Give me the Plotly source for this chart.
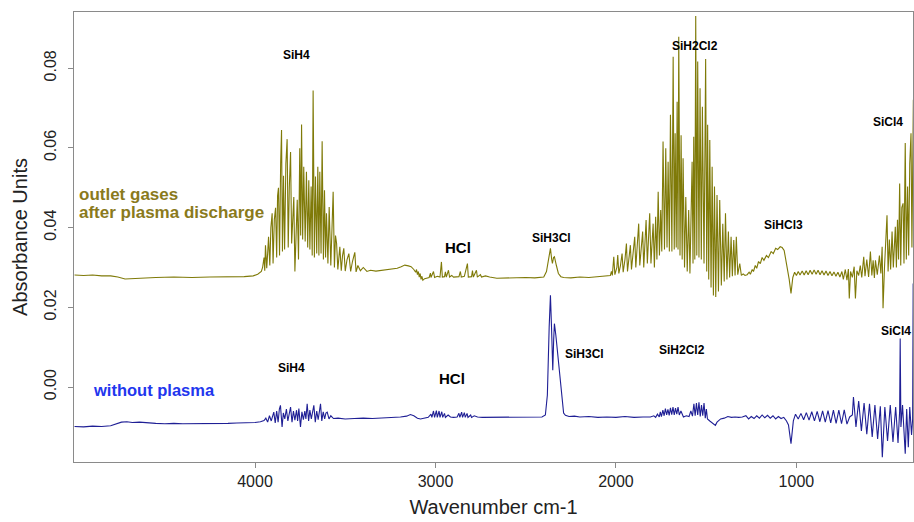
import plotly.graph_objects as go

# ---------------- data ----------------
# outlet gases after plasma discharge: (wavenumber cm-1, absorbance)
olive_points = [
    (5000, 0.0281), (4950, 0.0280), (4900, 0.0281), (4850, 0.0279), (4800, 0.0279),
    (4760, 0.0276), (4720, 0.0271), (4680, 0.0272), (4620, 0.0274), (4550, 0.0275),
    (4450, 0.0276), (4350, 0.0275), (4250, 0.0276), (4150, 0.0276), (4060, 0.0277),
    (4010, 0.0279), (3985, 0.0283), (3965, 0.0290), (3958, 0.0300),
    (3950, 0.0325), (3946, 0.0292), (3942, 0.0356), (3935, 0.0298), (3930, 0.0335),
    (3925, 0.0377), (3918, 0.0305), (3912, 0.0400), (3905, 0.0436), (3900, 0.0310),
    (3893, 0.0420), (3886, 0.0450), (3880, 0.0325), (3875, 0.0480), (3870, 0.0500),
    (3864, 0.0330), (3858, 0.0560), (3853, 0.0645), (3848, 0.0340), (3842, 0.0530),
    (3836, 0.0345), (3829, 0.0560), (3822, 0.0622), (3816, 0.0350), (3810, 0.0500),
    (3803, 0.0590), (3797, 0.0360), (3791, 0.0420), (3785, 0.0477), (3779, 0.0290),
    (3772, 0.0400), (3766, 0.0470), (3759, 0.0320), (3752, 0.0599), (3747, 0.0380),
    (3742, 0.0659), (3736, 0.0370), (3730, 0.0553), (3722, 0.0365), (3715, 0.0540),
    (3708, 0.0350), (3702, 0.0519), (3696, 0.0345), (3689, 0.0503), (3683, 0.0330),
    (3678, 0.0744), (3671, 0.0325), (3665, 0.0528), (3658, 0.0335), (3652, 0.0553),
    (3646, 0.0330), (3641, 0.0540), (3634, 0.0335), (3628, 0.0617), (3621, 0.0320),
    (3615, 0.0494), (3609, 0.0325), (3604, 0.0436), (3596, 0.0310), (3589, 0.0452),
    (3580, 0.0305), (3574, 0.0400), (3567, 0.0490), (3560, 0.0300), (3554, 0.0380),
    (3548, 0.0361), (3541, 0.0295), (3530, 0.0352), (3522, 0.0292), (3515, 0.0330),
    (3508, 0.0348), (3500, 0.0291), (3490, 0.0320), (3480, 0.0335), (3470, 0.0290),
    (3460, 0.0315), (3447, 0.0338), (3440, 0.0289), (3430, 0.0305), (3416, 0.0292),
    (3400, 0.0300), (3380, 0.0290), (3360, 0.0293), (3330, 0.0291), (3300, 0.0293),
    (3270, 0.0295), (3240, 0.0296), (3212, 0.0298), (3190, 0.0302), (3170, 0.0306),
    (3150, 0.0304), (3135, 0.0302), (3120, 0.0295), (3110, 0.0288), (3105, 0.0295),
    (3100, 0.0282), (3095, 0.0290), (3090, 0.0276), (3085, 0.0285), (3080, 0.0270),
    (3075, 0.0278), (3070, 0.0268), (3060, 0.0272), (3045, 0.0274), (3035, 0.0275),
    (3028, 0.0286), (3025, 0.0275), (3011, 0.0290), (3005, 0.0275), (2990, 0.0278),
    (2975, 0.0276), (2967, 0.0314), (2962, 0.0276), (2950, 0.0277), (2945, 0.0289),
    (2940, 0.0276), (2928, 0.0293), (2922, 0.0276), (2910, 0.0280), (2900, 0.0276),
    (2870, 0.0277), (2862, 0.0290), (2857, 0.0276), (2840, 0.0278), (2823, 0.0310),
    (2818, 0.0276), (2800, 0.0277), (2795, 0.0292), (2790, 0.0276), (2773, 0.0293),
    (2768, 0.0276), (2751, 0.0282), (2745, 0.0276), (2723, 0.0279), (2700, 0.0276),
    (2660, 0.0273), (2600, 0.0274), (2550, 0.0273), (2500, 0.0275), (2450, 0.0274),
    (2400, 0.0276), (2385, 0.0290), (2370, 0.0335), (2363, 0.0348), (2356, 0.0320),
    (2352, 0.0310), (2346, 0.0325), (2341, 0.0327), (2330, 0.0305), (2319, 0.0285),
    (2305, 0.0277), (2290, 0.0275), (2250, 0.0274), (2200, 0.0276), (2150, 0.0275),
    (2100, 0.0277), (2060, 0.0278), (2040, 0.0280), (2031, 0.0280), (2025, 0.0290),
    (2020, 0.0280), (2012, 0.0327), (2006, 0.0282), (1995, 0.0300), (1990, 0.0331),
    (1984, 0.0285), (1975, 0.0305), (1966, 0.0335), (1960, 0.0288), (1950, 0.0320),
    (1942, 0.0360), (1936, 0.0290), (1928, 0.0330), (1920, 0.0356), (1914, 0.0295),
    (1905, 0.0340), (1896, 0.0377), (1890, 0.0300), (1882, 0.0350), (1874, 0.0410),
    (1868, 0.0305), (1860, 0.0360), (1852, 0.0390), (1846, 0.0300), (1840, 0.0370),
    (1833, 0.0419), (1826, 0.0310), (1820, 0.0390), (1813, 0.0436), (1806, 0.0310),
    (1800, 0.0380), (1794, 0.0410), (1787, 0.0300), (1780, 0.0427), (1773, 0.0320),
    (1766, 0.0490), (1759, 0.0330), (1752, 0.0444), (1746, 0.0340), (1739, 0.0616),
    (1731, 0.0345), (1724, 0.0599), (1717, 0.0350), (1711, 0.0565), (1704, 0.0340),
    (1698, 0.0683), (1690, 0.0340), (1683, 0.0829), (1677, 0.0345), (1672, 0.0637),
    (1666, 0.0350), (1661, 0.0716), (1656, 0.0345), (1652, 0.0879), (1645, 0.0330),
    (1639, 0.0632), (1633, 0.0320), (1628, 0.0574), (1620, 0.0300), (1613, 0.0477),
    (1605, 0.0290), (1597, 0.0444), (1590, 0.0285), (1578, 0.0565), (1573, 0.0310),
    (1569, 0.0628), (1563, 0.0320), (1558, 0.0931), (1552, 0.0330), (1547, 0.0817),
    (1540, 0.0325), (1534, 0.0750), (1527, 0.0320), (1521, 0.0703), (1512, 0.0310),
    (1503, 0.0823), (1497, 0.0290), (1492, 0.0658), (1486, 0.0270), (1480, 0.0620),
    (1473, 0.0250), (1467, 0.0553), (1460, 0.0230), (1454, 0.0503), (1447, 0.0226),
    (1440, 0.0482), (1432, 0.0240), (1425, 0.0469), (1416, 0.0255), (1408, 0.0410),
    (1400, 0.0265), (1393, 0.0436), (1385, 0.0270), (1377, 0.0390), (1370, 0.0275),
    (1362, 0.0377), (1355, 0.0278), (1347, 0.0369), (1340, 0.0280), (1333, 0.0377),
    (1325, 0.0282), (1314, 0.0310), (1305, 0.0280), (1295, 0.0284), (1285, 0.0280),
    (1273, 0.0282), (1262, 0.0288), (1255, 0.0283), (1245, 0.0295), (1238, 0.0290),
    (1228, 0.0305), (1220, 0.0298), (1210, 0.0315), (1200, 0.0310), (1190, 0.0325),
    (1180, 0.0318), (1166, 0.0330), (1155, 0.0325), (1140, 0.0340), (1128, 0.0335),
    (1115, 0.0348), (1104, 0.0345), (1090, 0.0352), (1079, 0.0350), (1068, 0.0343),
    (1058, 0.0320), (1050, 0.0302), (1040, 0.0270), (1030, 0.0235), (1020, 0.0275),
    (1010, 0.0288), (1000, 0.0280), (990, 0.0290), (980, 0.0281), (968, 0.0291),
    (957, 0.0281), (946, 0.0292), (935, 0.0282), (924, 0.0293), (913, 0.0283),
    (902, 0.0294), (891, 0.0283), (880, 0.0293), (869, 0.0282), (858, 0.0292),
    (847, 0.0281), (836, 0.0291), (825, 0.0280), (814, 0.0290), (803, 0.0279),
    (792, 0.0289), (781, 0.0278), (770, 0.0288), (759, 0.0276), (748, 0.0290),
    (740, 0.0270), (729, 0.0295), (720, 0.0268), (712, 0.0296), (707, 0.0222),
    (700, 0.0290), (690, 0.0275), (680, 0.0302), (673, 0.0222), (665, 0.0292),
    (655, 0.0280), (646, 0.0305), (638, 0.0275), (627, 0.0327), (620, 0.0278),
    (610, 0.0320), (600, 0.0276), (590, 0.0340), (582, 0.0280), (575, 0.0318),
    (568, 0.0274), (562, 0.0318), (552, 0.0282), (540, 0.0330), (532, 0.0285),
    (525, 0.0352), (520, 0.0198), (512, 0.0300), (505, 0.0360), (498, 0.0431),
    (492, 0.0290), (485, 0.0370), (478, 0.0295), (470, 0.0390), (463, 0.0300),
    (457, 0.0385), (452, 0.0402), (446, 0.0300), (440, 0.0420), (434, 0.0320),
    (428, 0.0511), (422, 0.0305), (416, 0.0450), (409, 0.0461), (404, 0.0310),
    (397, 0.0612), (391, 0.0320), (384, 0.0503), (378, 0.0330), (372, 0.0560),
    (365, 0.0637), (360, 0.0350), (356, 0.0595), (352, 0.0721),
]

# without plasma: (wavenumber cm-1, absorbance)
blue_points = [
    (5000, -0.0099), (4950, -0.0100), (4900, -0.0098), (4850, -0.0099), (4800, -0.0097),
    (4760, -0.0092), (4740, -0.0088), (4710, -0.0087), (4680, -0.0089), (4640, -0.0088),
    (4600, -0.0090), (4550, -0.0091), (4500, -0.0092), (4450, -0.0091), (4400, -0.0092),
    (4350, -0.0092), (4300, -0.0091), (4250, -0.0092), (4200, -0.0091), (4150, -0.0091),
    (4100, -0.0090), (4050, -0.0090), (4000, -0.0089), (3970, -0.0087), (3950, -0.0084),
    (3940, -0.0078), (3930, -0.0088), (3920, -0.0072), (3910, -0.0085), (3896, -0.0063),
    (3888, -0.0090), (3880, -0.0060), (3872, -0.0088), (3865, -0.0055), (3859, -0.0046),
    (3850, -0.0100), (3843, -0.0065), (3835, -0.0080), (3826, -0.0055), (3818, -0.0085),
    (3810, -0.0060), (3803, -0.0050), (3795, -0.0088), (3787, -0.0060), (3779, -0.0083),
    (3770, -0.0058), (3764, -0.0085), (3757, -0.0054), (3748, -0.0100), (3740, -0.0062),
    (3732, -0.0082), (3724, -0.0060), (3718, -0.0080), (3711, -0.0042), (3703, -0.0085),
    (3696, -0.0058), (3688, -0.0080), (3680, -0.0055), (3674, -0.0046), (3666, -0.0088),
    (3658, -0.0060), (3650, -0.0082), (3643, -0.0055), (3637, -0.0042), (3630, -0.0085),
    (3622, -0.0062), (3614, -0.0080), (3607, -0.0065), (3600, -0.0063), (3590, -0.0080),
    (3580, -0.0072), (3565, -0.0079), (3540, -0.0078), (3500, -0.0080), (3450, -0.0079),
    (3400, -0.0078), (3350, -0.0079), (3300, -0.0078), (3250, -0.0077), (3194, -0.0075),
    (3160, -0.0073), (3139, -0.0069), (3120, -0.0072), (3100, -0.0078), (3083, -0.0080),
    (3060, -0.0077), (3040, -0.0076), (3025, -0.0068), (3020, -0.0076), (3011, -0.0060),
    (3005, -0.0076), (2995, -0.0059), (2990, -0.0076), (2980, -0.0060), (2975, -0.0076),
    (2965, -0.0062), (2960, -0.0076), (2950, -0.0066), (2945, -0.0076), (2930, -0.0070),
    (2917, -0.0075), (2900, -0.0076), (2880, -0.0075), (2870, -0.0066), (2865, -0.0076),
    (2855, -0.0063), (2850, -0.0076), (2840, -0.0064), (2835, -0.0076), (2825, -0.0066),
    (2820, -0.0076), (2805, -0.0070), (2800, -0.0076), (2785, -0.0072), (2767, -0.0075),
    (2740, -0.0076), (2700, -0.0076), (2650, -0.0075), (2600, -0.0076), (2550, -0.0076),
    (2500, -0.0075), (2450, -0.0076), (2410, -0.0075), (2391, -0.0070), (2380, -0.0020),
    (2370, 0.0150), (2363, 0.0230), (2357, 0.0150), (2350, 0.0042), (2345, 0.0120),
    (2341, 0.0159), (2333, 0.0130), (2325, 0.0090), (2317, 0.0059), (2308, 0.0010),
    (2298, -0.0042), (2290, -0.0065), (2280, -0.0071), (2260, -0.0074), (2230, -0.0073),
    (2200, -0.0075), (2150, -0.0074), (2100, -0.0076), (2050, -0.0075), (2000, -0.0076),
    (1950, -0.0074), (1900, -0.0076), (1850, -0.0075), (1809, -0.0075), (1790, -0.0072),
    (1780, -0.0076), (1770, -0.0068), (1760, -0.0075), (1754, -0.0062), (1748, -0.0074),
    (1740, -0.0058), (1733, -0.0072), (1726, -0.0054), (1719, -0.0070), (1712, -0.0056),
    (1705, -0.0071), (1698, -0.0052), (1691, -0.0069), (1684, -0.0050), (1677, -0.0070),
    (1670, -0.0053), (1663, -0.0068), (1656, -0.0050), (1649, -0.0070), (1640, -0.0060),
    (1626, -0.0075), (1610, -0.0072), (1595, -0.0074), (1585, -0.0060), (1576, -0.0073),
    (1568, -0.0042), (1561, -0.0072), (1554, -0.0040), (1547, -0.0070), (1540, -0.0038),
    (1533, -0.0074), (1526, -0.0045), (1519, -0.0072), (1512, -0.0040), (1505, -0.0078),
    (1499, -0.0055), (1493, -0.0080), (1480, -0.0085), (1470, -0.0088), (1460, -0.0092),
    (1449, -0.0096), (1440, -0.0088), (1430, -0.0085), (1420, -0.0080), (1400, -0.0078),
    (1380, -0.0074), (1360, -0.0076), (1340, -0.0075), (1320, -0.0076), (1300, -0.0075),
    (1280, -0.0072), (1265, -0.0080), (1250, -0.0074), (1235, -0.0079), (1220, -0.0072),
    (1205, -0.0078), (1190, -0.0070), (1175, -0.0077), (1160, -0.0071), (1145, -0.0078),
    (1130, -0.0072), (1115, -0.0080), (1100, -0.0074), (1085, -0.0079), (1070, -0.0076),
    (1055, -0.0085), (1044, -0.0095), (1030, -0.0142), (1017, -0.0085), (1005, -0.0068),
    (990, -0.0080), (975, -0.0066), (960, -0.0082), (945, -0.0064), (930, -0.0083),
    (915, -0.0062), (900, -0.0085), (885, -0.0061), (870, -0.0087), (855, -0.0060),
    (840, -0.0088), (825, -0.0059), (810, -0.0090), (795, -0.0058), (780, -0.0091),
    (765, -0.0058), (750, -0.0092), (735, -0.0057), (720, -0.0093), (705, -0.0075),
    (690, -0.0070), (684, -0.0025), (670, -0.0100), (655, -0.0035), (640, -0.0110),
    (625, -0.0040), (610, -0.0118), (595, -0.0042), (580, -0.0125), (565, -0.0045),
    (550, -0.0130), (535, -0.0048), (524, -0.0176), (510, -0.0050), (495, -0.0135),
    (480, -0.0045), (465, -0.0138), (450, -0.0050), (437, -0.0140), (428, -0.0060),
    (425, 0.0122), (421, -0.0100), (412, -0.0045), (397, -0.0167), (389, -0.0055),
    (380, -0.0151), (372, -0.0050), (362, -0.0120), (356, -0.0080), (353, 0.0260),
]

olive_wn = [p[0] for p in olive_points]
olive_abs = [p[1] for p in olive_points]
blue_wn = [p[0] for p in blue_points]
blue_abs = [p[1] for p in blue_points]

x_ticks = [4000, 3000, 2000, 1000]
y_ticks = [0.00, 0.02, 0.04, 0.06, 0.08]

OLIVE = "#7f7a08"
BLUE = "#1f1f95"
FONT = "Liberation Sans, Arial, sans-serif"

fig = go.Figure()
fig.add_trace(go.Scatter(x=olive_wn, y=olive_abs, mode="lines",
                         line=dict(color=OLIVE, width=1.1),
                         name="outlet gases after plasma discharge", showlegend=False))
fig.add_trace(go.Scatter(x=blue_wn, y=blue_abs, mode="lines",
                         line=dict(color=BLUE, width=1.1),
                         name="without plasma", showlegend=False))

def label(x, y, text, size=12, color="black", xanchor="center", xref="x"):
    fig.add_annotation(x=x, y=y, xref=xref, yref="y", text=f"<b>{text}</b>",
                       showarrow=False, xanchor=xanchor, yanchor="middle",
                       font=dict(family=FONT, size=size, color=color))

# peak labels, upper spectrum
label(3770, 0.0833, "SiH4")
label(1560, 0.0856, "SiH2Cl2")
label(400, 0.0665, "SiCl4", xanchor="right")
label(1072, 0.0406, "SiHCl3")
label(2873, 0.0351, "HCl", size=15)
label(2358, 0.0373, "SiH3Cl")
# peak labels, lower spectrum
label(3798, 0.0047, "SiH4")
label(2906, 0.0022, "HCl", size=15)
label(2175, 0.0082, "SiH3Cl")
label(1632, 0.0092, "SiH2Cl2")
label(356, 0.0140, "SiCl4", xanchor="right")
# series labels
label(0.004, 0.0482, "outlet gases", size=17, color="#8a7a1c", xanchor="left", xref="paper")
label(0.004, 0.0438, "after plasma discharge", size=17, color="#8a7a1c", xanchor="left", xref="paper")
label(0.020, -0.0008, "without plasma", size=16.5, color="#2236ee", xanchor="left", xref="paper")

axis_common = dict(showline=True, linecolor="#8a8a8a", linewidth=1, mirror=True,
                   ticks="outside", ticklen=5, tickcolor="#8a8a8a",
                   showgrid=False, zeroline=False, automargin=False,
                   tickfont=dict(family=FONT, size=16, color="#222"))

fig.update_layout(
    width=914, height=522,
    margin=dict(l=74, r=1, t=12, b=60),
    paper_bgcolor="white", plot_bgcolor="white",
    xaxis=dict(range=[5003, 354], tickvals=x_ticks,
               title=dict(text="Wavenumber cm-1", font=dict(family=FONT, size=20, color="#222"),
                          standoff=10),
               **axis_common),
    yaxis=dict(range=[-0.0188, 0.0941], tickvals=y_ticks, tickformat=".2f", tickangle=-90,
               ticklabelstandoff=6,
               title=dict(text="Absorbance Units", font=dict(family=FONT, size=20, color="#222"),
                          standoff=8),
               **axis_common),
)

fig.write_html("out.html", config={"displayModeBar": False},
               post_script="document.body.style.margin='0';")
